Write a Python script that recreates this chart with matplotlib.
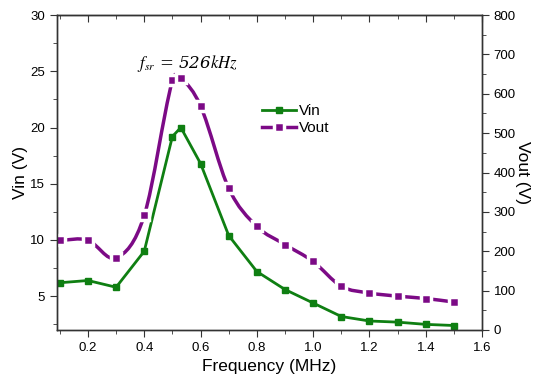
import numpy as np
import matplotlib.pyplot as plt
from matplotlib.path import Path
from matplotlib.patches import PathPatch
from matplotlib.ticker import MultipleLocator

plt.rcParams['font.family'] = ['Liberation Sans', 'DejaVu Sans']

freq = [0.1, 0.2, 0.3, 0.4, 0.5, 0.53, 0.6, 0.7, 0.8, 0.9, 1.0, 1.1, 1.2, 1.3, 1.4, 1.5]
vin = [6.2, 6.4, 5.8, 9.0, 19.2, 20.0, 16.8, 10.4, 7.2, 5.6, 4.4, 3.2, 2.8, 2.7, 2.5, 2.4]
vout = [228, 228, 183, 291, 634, 640, 569, 360, 263, 217, 174, 111, 94, 86, 80, 71]

green = "#0f7f12"
purple = "#7c0a86"


def smooth_path(xs, ys):
    # cubic hermite through the points (slopes from neighbours), as bezier segments
    n = len(xs)
    m = []
    for i in range(n):
        a = max(i - 1, 0)
        b = min(i + 1, n - 1)
        m.append((ys[b] - ys[a]) / (xs[b] - xs[a]))
    verts = [(xs[0], ys[0])]
    codes = [Path.MOVETO]
    for i in range(n - 1):
        h = xs[i + 1] - xs[i]
        verts += [(xs[i] + h / 3, ys[i] + m[i] * h / 3),
                  (xs[i + 1] - h / 3, ys[i + 1] - m[i + 1] * h / 3),
                  (xs[i + 1], ys[i + 1])]
        codes += [Path.CURVE4] * 3
    return Path(verts, codes)


fig = plt.figure(figsize=(5.42, 3.86), dpi=100)
ax = fig.add_axes([57 / 542, 1 - 330 / 386, 425 / 542, 315 / 386])
ax2 = ax.twinx()

ax.plot(freq, vin, color=green, marker="s", markersize=5, linewidth=2, label="Vin")

patch = PathPatch(smooth_path(freq, vout), facecolor="none", edgecolor=purple,
                  linewidth=2.5)
ax2.add_patch(patch)
ax2.plot(freq, vout, linestyle="none", marker="s", markersize=7.5,
         markerfacecolor=purple, markeredgecolor="white", markeredgewidth=2.5)

# legend proxy
ax.plot([], [], color=purple, marker="s", markersize=7, linewidth=2.5,
        markerfacecolor=purple, markeredgecolor="white", markeredgewidth=2.5,
        label="Vout")
ax.legend(loc="upper left", bbox_to_anchor=(0.45, 0.76), frameon=False,
          fontsize=11, handlelength=2.2, handletextpad=0.2, labelspacing=0.2)

ax.text(0.375, 25.7, r"$f_{sr}$ = 526$kHz$", fontsize=12, family="serif",
        math_fontfamily="stix", style="italic", va="center")

ax.set_xlim(0.09, 1.6)
ax.set_ylim(2, 30)
ax2.set_ylim(0, 800)

ax.xaxis.set_major_locator(MultipleLocator(0.2))
ax.xaxis.set_minor_locator(MultipleLocator(0.1))
ax.yaxis.set_major_locator(MultipleLocator(5))
ax.yaxis.set_minor_locator(MultipleLocator(2.5))
ax2.yaxis.set_major_locator(MultipleLocator(100))
ax2.yaxis.set_minor_locator(MultipleLocator(50))
ax.set_yticks([5, 10, 15, 20, 25, 30])
ax.set_xticks([0.2, 0.4, 0.6, 0.8, 1.0, 1.2, 1.4, 1.6])

ax.tick_params(which="both", direction="out", labelsize=9.5, color="#333333")
ax.tick_params(which="major", length=5)
ax.tick_params(which="minor", length=3)
ax2.tick_params(which="both", direction="out", labelsize=9.5, color="#333333")
ax2.tick_params(which="major", length=5)
ax2.tick_params(which="minor", length=3)

# inward ticks along the top edge
top = ax.secondary_xaxis("top")
top.xaxis.set_major_locator(MultipleLocator(0.2))
top.xaxis.set_minor_locator(MultipleLocator(0.1))
top.tick_params(which="both", direction="in", labeltop=False, color="#333333")
top.tick_params(which="major", length=5)
top.tick_params(which="minor", length=3)
top.spines["top"].set_color("#333333")

for a in (ax, ax2):
    for s in a.spines.values():
        s.set_color("#333333")
        s.set_linewidth(1)

ax.set_xlabel("Frequency (MHz)", fontsize=12.5)
ax.set_ylabel("Vin (V)", fontsize=12.5, labelpad=2)
ax2.set_ylabel("Vout (V)", fontsize=12.5, rotation=270, labelpad=10)

fig.savefig("out.png", dpi=100)
